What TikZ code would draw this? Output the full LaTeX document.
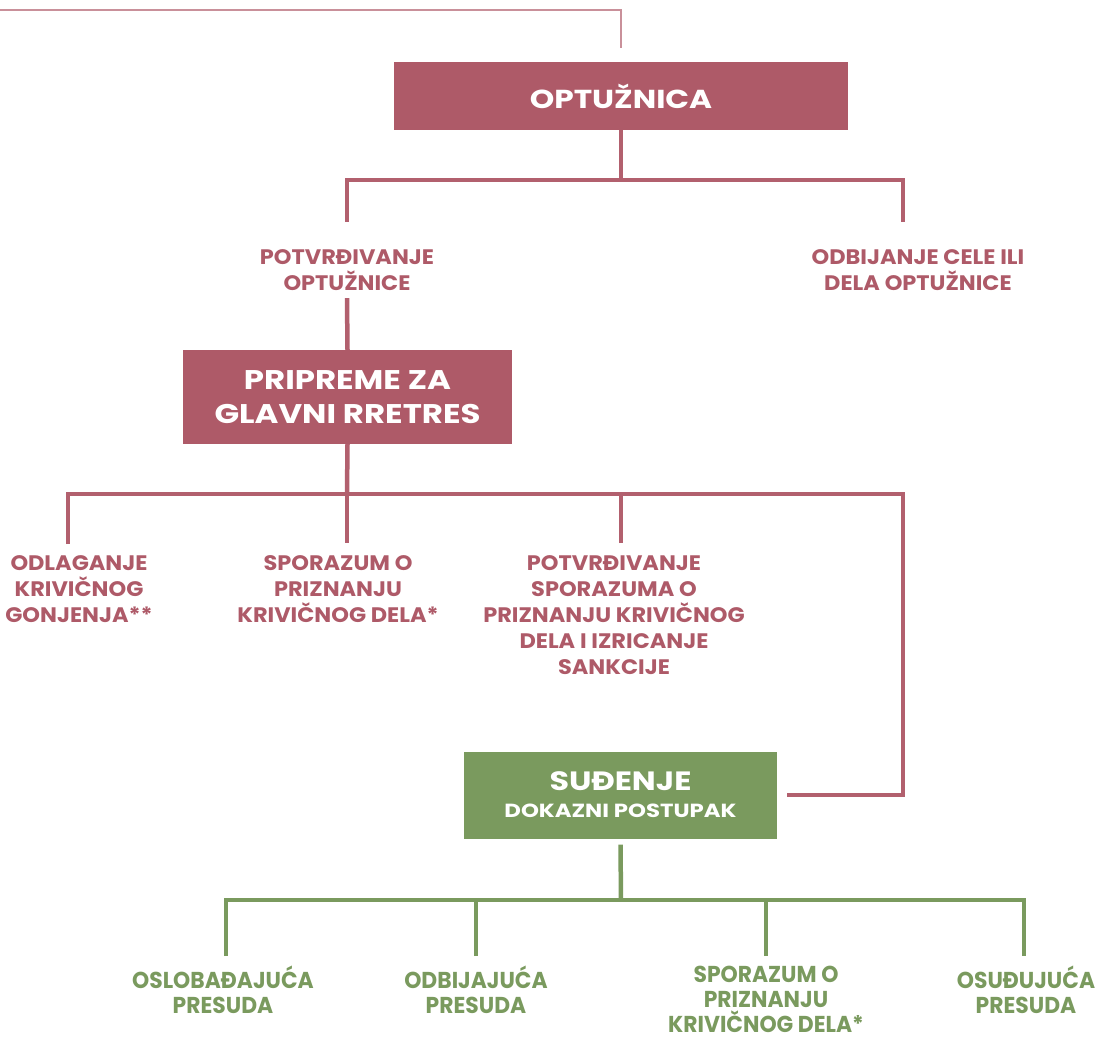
\documentclass[tikz,border=0pt]{standalone}
\usepackage{fontspec}
\setmainfont{Poppins}
\newfontfamily\widefont{Poppins}[FakeStretch=1.2]
\newfontfamily\labelfont{Poppins}[FakeStretch=1.07]
\newfontfamily\narrowfont{Poppins}[FakeStretch=0.95]
\usetikzlibrary{positioning}
\definecolor{rose}{HTML}{AE5A68}
\definecolor{roseline}{HTML}{B2606E}
\definecolor{rosethin}{HTML}{C9909A}
\definecolor{olive}{HTML}{7A9A5E}

\begin{document}
\begin{tikzpicture}[
    x=1pt, y=-1pt,
    stage/.style={rectangle, fill=rose, text=white, align=center, inner sep=0pt,
        font=\widefont\bfseries\fontsize{26}{34}\selectfont},
    outcome/.style={anchor=north, align=center, text=rose, inner sep=0pt,
        font=\labelfont\bfseries\fontsize{21}{26}\selectfont, execute at begin node=\strut},
    verdict/.style={outcome, text=olive, font=\narrowfont\bfseries\fontsize{23}{25}\selectfont},
    link/.style={draw=roseline, line width=4.5pt},
    greenlink/.style={draw=olive, line width=4.5pt},
    thinlink/.style={draw=rosethin, line width=1.5pt}
]
    \useasboundingbox (0,0) rectangle (1098,1040);

    % stages
    \node[stage, minimum width=454pt, minimum height=68pt] (optuz) at (621,96) {OPTUŽNICA};
    \node[stage, font=\widefont\bfseries\fontsize{27}{34}\selectfont, minimum width=329pt, minimum height=94pt]
        (pripreme) at (347.5,397) {PRIPREME ZA\\GLAVNI RRETRES};
    \node[stage, fill=olive, font=\widefont\bfseries\fontsize{26.5}{27}\selectfont, minimum width=313pt, minimum height=87pt]
        (sudjenje) at (620.5,795) {SUĐENJE\\{\fontsize{19}{27}\selectfont DOKAZNI POSTUPAK}};

    % outcomes
    \node[outcome] (potvrda) at (347,249) {POTVRĐIVANJE\\OPTUŽNICE};
    \node[outcome] (odbijanje) at (918,249) {ODBIJANJE CELE ILI\\DELA OPTUŽNICE};
    \node[outcome] (odlaganje) at (79,555) {ODLAGANJE\\KRIVIČNOG\\GONJENJA**};
    \node[outcome] (sporazum) at (338,555) {SPORAZUM O\\PRIZNANJU\\KRIVIČNOG DELA*};
    \node[outcome] (potvrdasp) at (614,555) {POTVRĐIVANJE\\SPORAZUMA O\\PRIZNANJU KRIVIČNOG\\DELA I IZRICANJE\\SANKCIJE};

    % verdicts
    \node[verdict] (oslob) at (223,966) {OSLOBAĐAJUĆA\\PRESUDA};
    \node[verdict] (odbij) at (476,966) {ODBIJAJUĆA\\PRESUDA};
    \node[verdict] (sporazumb) at (766,966) {SPORAZUM O\\PRIZNANJU\\KRIVIČNOG DELA*};
    \node[verdict] (osudj) at (1026,966) {OSUĐUJUĆA\\PRESUDA};

    \coordinate (start) at (0,10);
    \coordinate (split1) at (621,180);
    \coordinate (split2) at (347,494);
    \coordinate (corner) at (903,494);
    \coordinate (split3) at (621,900);

    % connectors
    \draw[thinlink] (start) -| ([yshift=14pt]optuz.north);
    \draw[link] (optuz.south) -- (split1);
    \draw[link] ([yshift=27pt]potvrda.north) |- (split1) -| ([shift={(-15pt,27pt)}]odbijanje.north);
    \draw[link] (potvrda.south) -- (pripreme.north);
    \draw[link] (pripreme.south) -- (split2);
    \draw[link] ([shift={(-11pt,11pt)}]odlaganje.north) |- (corner) |- ([xshift=10pt]sudjenje.east);
    \draw[link] (split2) -- ([shift={(9pt,12pt)}]sporazum.north);
    \draw[link] ([shift={(7pt,12pt)}]potvrdasp.north) |- (split2);

    \draw[greenlink] ([yshift=-6pt]sudjenje.south) -- (split3);
    \draw[greenlink] ([shift={(3pt,10pt)}]oslob.north) |- (split3) -| ([shift={(-2pt,10pt)}]osudj.north);
    \draw[greenlink] ([yshift=10pt]odbij.north) |- (split3);
    \draw[greenlink] ([yshift=10pt]sporazumb.north) |- (split3);
\end{tikzpicture}
\end{document}
